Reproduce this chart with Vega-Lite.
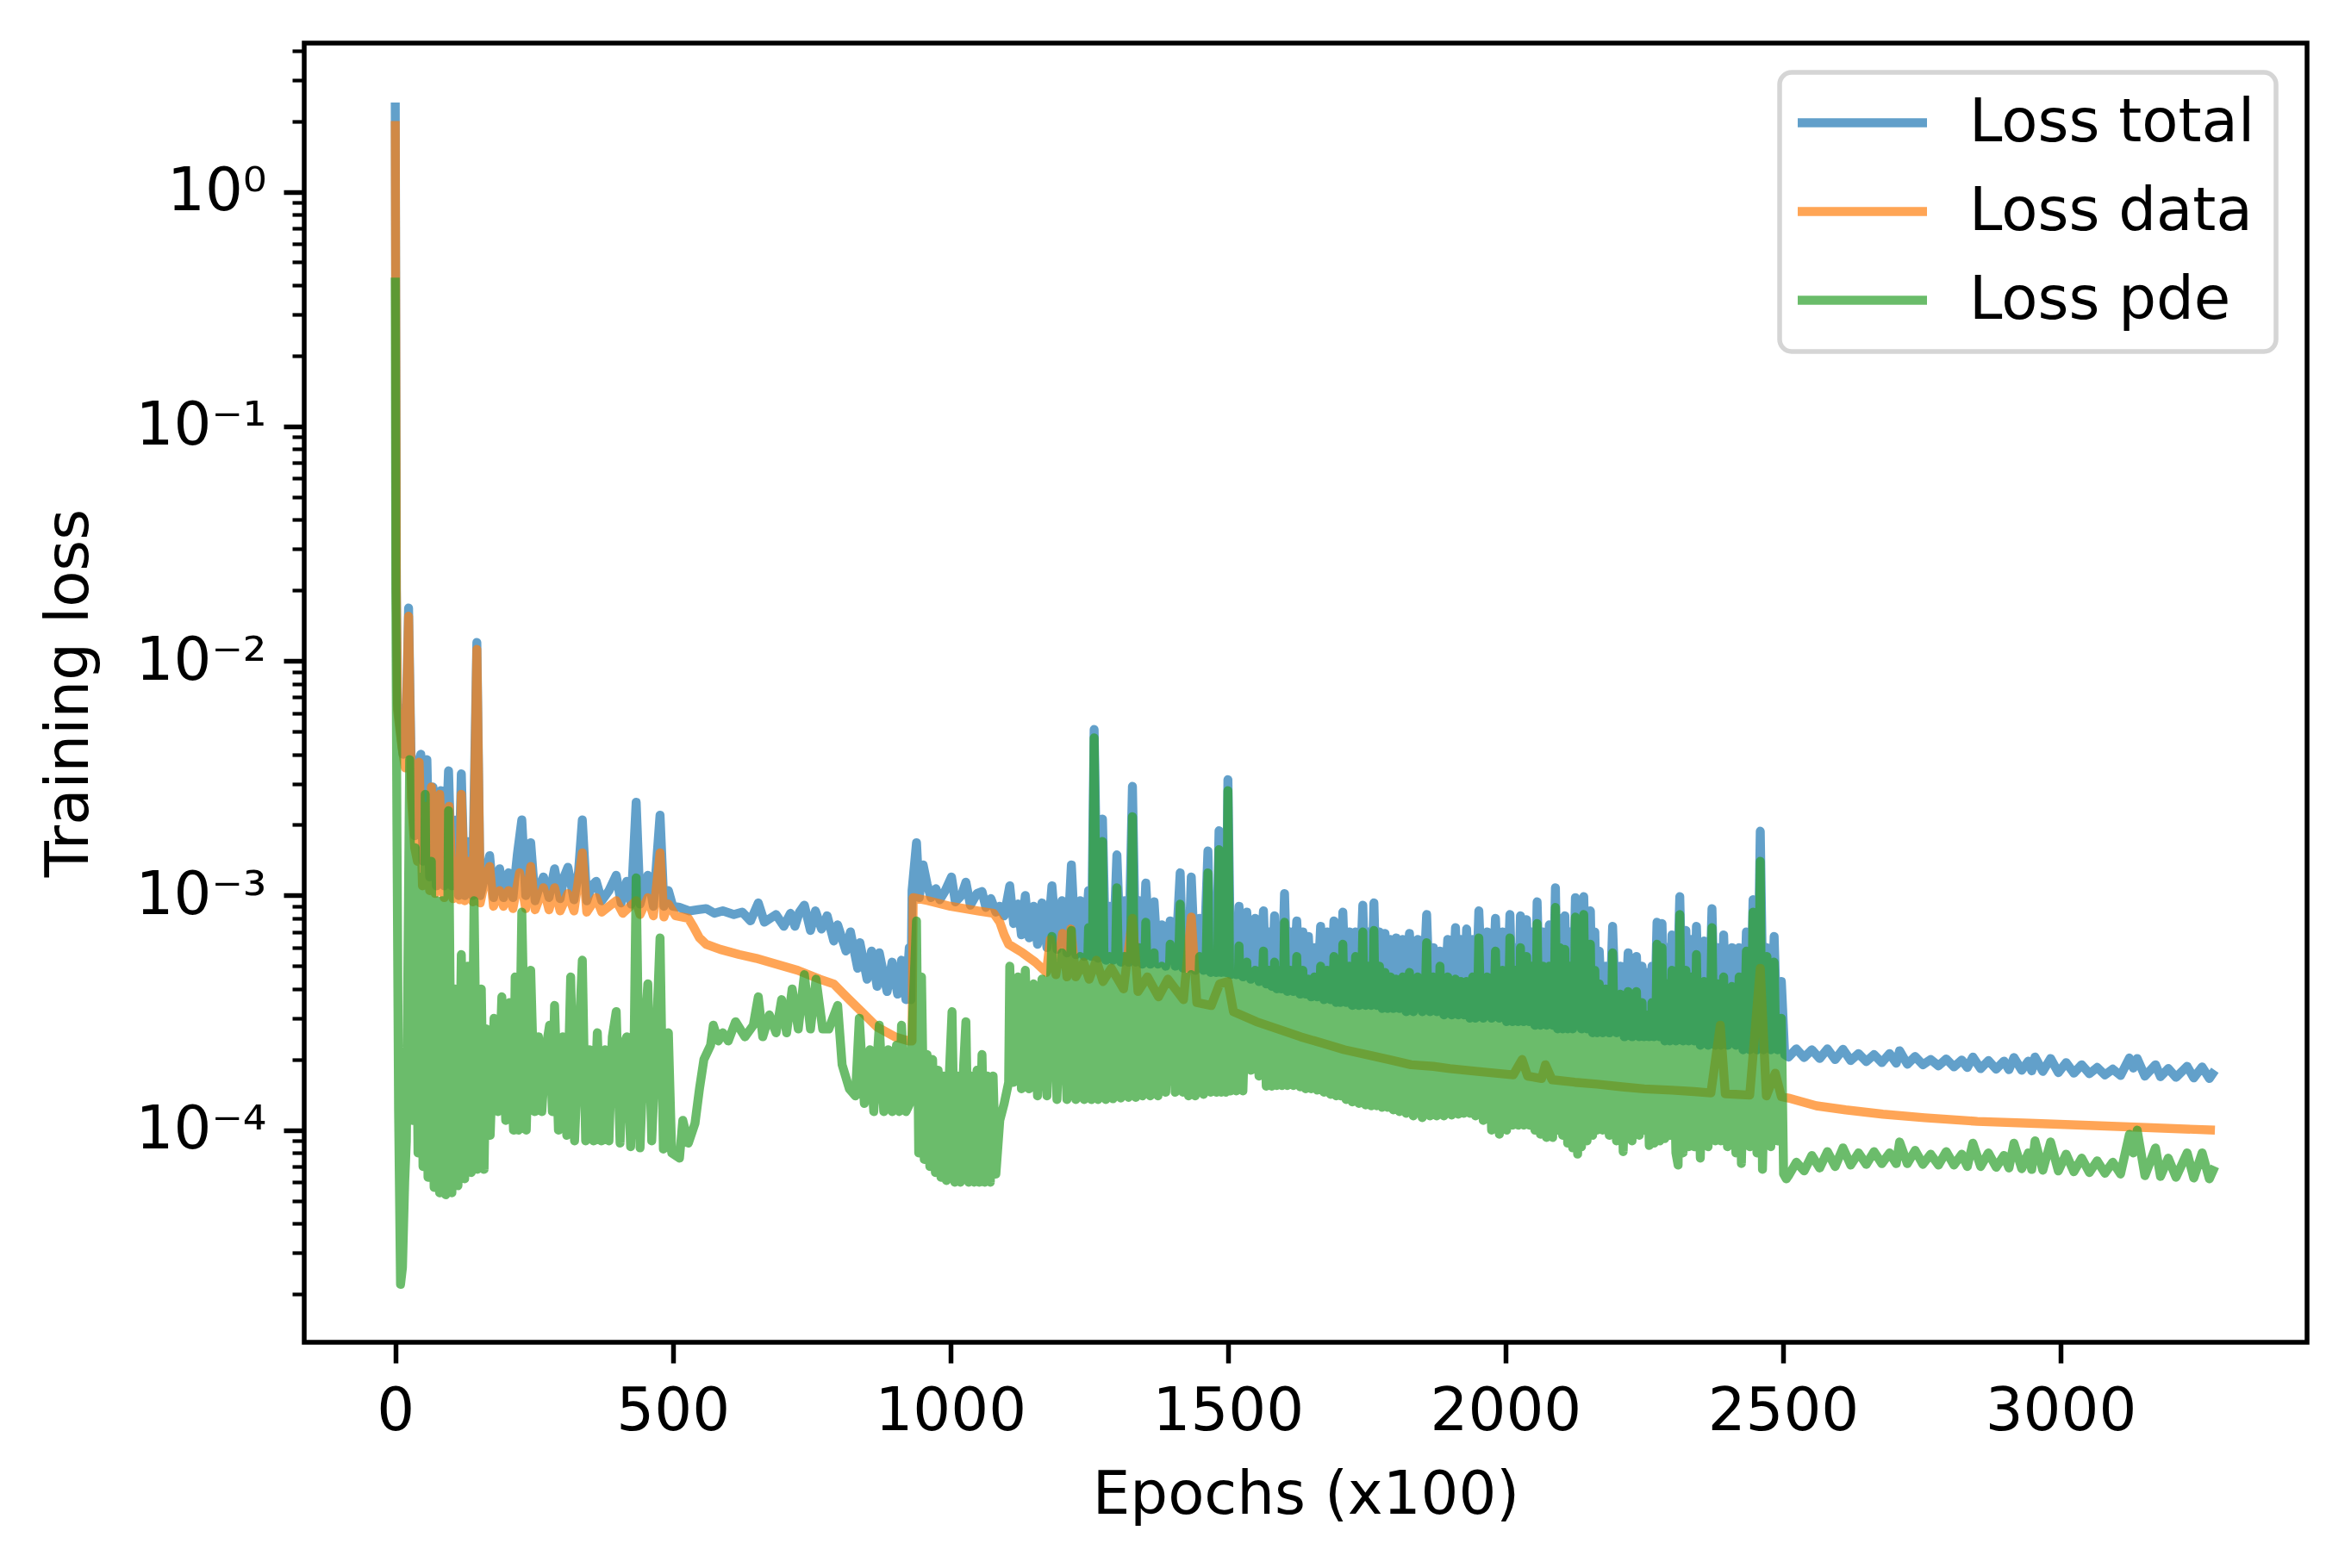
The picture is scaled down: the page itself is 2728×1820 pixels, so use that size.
{"$schema":"https://vega.github.io/schema/vega-lite/v6.json","width":2324,"height":1508,"autosize":"none","padding":{"left":353,"top":50,"right":51,"bottom":262},"background":"white",
"config":{"font":"DejaVu Sans","view":{"stroke":"black","strokeWidth":5.5},"axis":{"grid":false,"domain":false,"tickColor":"black","labelColor":"black","titleColor":"black","labelFontSize":69,"titleFontSize":69,"titleFontWeight":"normal","labelFont":"DejaVu Sans","titleFont":"DejaVu Sans","labelLimit":1000}},
"datasets":{
"total":[{"x":0,"y":2.4},{"x":2,"y":0.02},{"x":4,"y":0.0066},{"x":14,"y":0.004},{"x":19,"y":0.0045},{"x":24,"y":0.0168},{"x":29,"y":0.0032},{"x":35,"y":0.0018},{"x":40,"y":0.0036},{"x":46,"y":0.004},{"x":50,"y":0.0014},{"x":57,"y":0.0038},{"x":62,"y":0.0012},{"x":68,"y":0.0029},{"x":74,"y":0.0011},{"x":82,"y":0.0028},{"x":88,"y":0.0011},{"x":96,"y":0.0034},{"x":102,"y":0.0011},{"x":110,"y":0.0021},{"x":114,"y":0.001},{"x":119,"y":0.0033},{"x":125,"y":0.001},{"x":133,"y":0.0017},{"x":139,"y":0.001},{"x":147,"y":0.012},{"x":153,"y":0.001},{"x":163,"y":0.00125},{"x":170,"y":0.00148},{"x":177,"y":0.00098},{"x":188,"y":0.0013},{"x":195,"y":0.00098},{"x":204,"y":0.00125},{"x":212,"y":0.00098},{"x":220,"y":0.0015},{"x":228,"y":0.0021},{"x":235,"y":0.001},{"x":244,"y":0.00168},{"x":252,"y":0.00095},{"x":260,"y":0.0011},{"x":267,"y":0.0012},{"x":277,"y":0.00098},{"x":287,"y":0.0013},{"x":297,"y":0.00097},{"x":304,"y":0.0012},{"x":311,"y":0.00132},{"x":322,"y":0.00096},{"x":330,"y":0.00125},{"x":337,"y":0.0021},{"x":345,"y":0.00095},{"x":354,"y":0.0011},{"x":362,"y":0.00115},{"x":372,"y":0.00095},{"x":385,"y":0.00105},{"x":398,"y":0.00122},{"x":407,"y":0.00093},{"x":417,"y":0.00115},{"x":425,"y":0.00092},{"x":434,"y":0.0025},{"x":441,"y":0.00092},{"x":455,"y":0.00122},{"x":465,"y":0.0009},{"x":477,"y":0.0022},{"x":484,"y":0.0009},{"x":492,"y":0.00105},{"x":500,"y":0.0009},{"x":512,"y":0.00089},{"x":530,"y":0.00086},{"x":545,"y":0.00087},{"x":560,"y":0.00088},{"x":575,"y":0.00084},{"x":590,"y":0.00086},{"x":610,"y":0.00083},{"x":625,"y":0.00085},{"x":640,"y":0.00078},{"x":654,"y":0.00093},{"x":665,"y":0.00077},{"x":686,"y":0.00083},{"x":700,"y":0.00074},{"x":712,"y":0.00084},{"x":720,"y":0.00074},{"x":728,"y":0.00085},{"x":737,"y":0.00091},{"x":748,"y":0.00071},{"x":757,"y":0.00086},{"x":768,"y":0.00072},{"x":778,"y":0.00082},{"x":790,"y":0.00064},{"x":797,"y":0.00075},{"x":812,"y":0.00058},{"x":820,"y":0.0007},{"x":833,"y":0.00049},{"x":837,"y":0.00063},{"x":850,"y":0.00044},{"x":858,"y":0.00058},{"x":868,"y":0.00041},{"x":872,"y":0.00057},{"x":886,"y":0.00039},{"x":895,"y":0.00052},{"x":905,"y":0.00038},{"x":912,"y":0.00053},{"x":920,"y":0.00036},{"x":926,"y":0.0006},{"x":929,"y":0.00036},{"x":931,"y":0.00105},{"x":939,"y":0.00168},{"x":944,"y":0.00098},{"x":951,"y":0.00135},{"x":958,"y":0.00112},{"x":965,"y":0.00098},{"x":974,"y":0.00107},{"x":981,"y":0.00096},{"x":990,"y":0.00104},{"x":1002,"y":0.0012},{"x":1009,"y":0.00094},{"x":1020,"y":0.001},{"x":1028,"y":0.00114},{"x":1036,"y":0.00091},{"x":1048,"y":0.00102},{"x":1057,"y":0.00104},{"x":1064,"y":0.00089},{"x":1073,"y":0.00097},{"x":1082,"y":0.00085},{"x":1089,"y":0.0009},{"x":1097,"y":0.00082},{"x":1107,"y":0.0011},{"x":1114,"y":0.00076},{"x":1122,"y":0.00092},{"x":1128,"y":0.00068},{"x":1135,"y":0.001},{"x":1142,"y":0.00066},{"x":1150,"y":0.0009},{"x":1157,"y":0.00062},{"x":1165,"y":0.00093},{"x":1174,"y":0.0006},{"x":1183,"y":0.0011},{"x":1192,"y":0.00059},{"x":1201,"y":0.00095},{"x":1210,"y":0.00057},{"x":1218,"y":0.00135},{"x":1226,"y":0.00056},{"x":1234,"y":0.00095},{"x":1241,"y":0.00055},{"x":1249,"y":0.00105},{"x":1254,"y":0.00055},{"x":1259,"y":0.0051},{"x":1266,"y":0.00054},{"x":1274,"y":0.00212},{"x":1280,"y":0.00053},{"x":1287,"y":0.0009},{"x":1293,"y":0.00053},{"x":1300,"y":0.00149},{"x":1307,"y":0.00052},{"x":1314,"y":0.00095},{"x":1321,"y":0.00052},{"x":1328,"y":0.00292},{"x":1334,"y":0.00052},{"x":1340,"y":0.00095},{"x":1346,"y":0.00051},{"x":1352,"y":0.00113},{"x":1360,"y":0.00051},{"x":1367,"y":0.00094},{"x":1374,"y":0.00051},{"x":1381,"y":0.00075},{"x":1388,"y":0.0005},{"x":1396,"y":0.00078},{"x":1405,"y":0.0005},{"x":1414,"y":0.00125},{"x":1419,"y":0.00049},{"x":1424,"y":0.0007},{"x":1429,"y":0.00049},{"x":1434,"y":0.0012},{"x":1441,"y":0.00048},{"x":1449,"y":0.0008},{"x":1456,"y":0.00048},{"x":1464,"y":0.00155},{"x":1469,"y":0.00047},{"x":1474,"y":0.0007},{"x":1479,"y":0.00047},{"x":1484,"y":0.00189},{"x":1488,"y":0.00047},{"x":1492,"y":0.0008},{"x":1496,"y":0.00047},{"x":1500,"y":0.00312},{"x":1505,"y":0.00046},{"x":1510,"y":0.0006},{"x":1515,"y":0.00046},{"x":1520,"y":0.0009},{"x":1527,"y":0.00045},{"x":1534,"y":0.00085},{"x":1541,"y":0.00044},{"x":1549,"y":0.0008},{"x":1556,"y":0.00043},{"x":1564,"y":0.00086},{"x":1569,"y":0.00042},{"x":1574,"y":0.0007},{"x":1579,"y":0.00041},{"x":1584,"y":0.00082},{"x":1588,"y":0.0004},{"x":1593,"y":0.0007},{"x":1597,"y":0.0004},{"x":1602,"y":0.00102},{"x":1607,"y":0.00039},{"x":1613,"y":0.0007},{"x":1618,"y":0.00039},{"x":1624,"y":0.00078},{"x":1630,"y":0.00038},{"x":1635,"y":0.0007},{"x":1640,"y":0.00038},{"x":1645,"y":0.00067},{"x":1650,"y":0.00037},{"x":1656,"y":0.0006},{"x":1661,"y":0.00037},{"x":1667,"y":0.00074},{"x":1673,"y":0.00036},{"x":1679,"y":0.0007},{"x":1685,"y":0.00036},{"x":1691,"y":0.00078},{"x":1695,"y":0.00035},{"x":1699,"y":0.0007},{"x":1703,"y":0.00035},{"x":1707,"y":0.00085},{"x":1713,"y":0.00035},{"x":1719,"y":0.0007},{"x":1724,"y":0.00034},{"x":1730,"y":0.0007},{"x":1736,"y":0.00034},{"x":1743,"y":0.00091},{"x":1748,"y":0.00034},{"x":1753,"y":0.0007},{"x":1758,"y":0.00034},{"x":1763,"y":0.00093},{"x":1768,"y":0.00034},{"x":1773,"y":0.0007},{"x":1778,"y":0.00033},{"x":1783,"y":0.00069},{"x":1788,"y":0.00033},{"x":1793,"y":0.00065},{"x":1798,"y":0.00033},{"x":1803,"y":0.00066},{"x":1809,"y":0.00033},{"x":1815,"y":0.00065},{"x":1821,"y":0.00032},{"x":1827,"y":0.00069},{"x":1834,"y":0.00032},{"x":1842,"y":0.00065},{"x":1850,"y":0.00032},{"x":1858,"y":0.00083},{"x":1864,"y":0.00032},{"x":1870,"y":0.0006},{"x":1876,"y":0.00032},{"x":1882,"y":0.00058},{"x":1889,"y":0.00031},{"x":1896,"y":0.00065},{"x":1903,"y":0.00031},{"x":1910,"y":0.00073},{"x":1915,"y":0.00031},{"x":1920,"y":0.00065},{"x":1925,"y":0.00031},{"x":1930,"y":0.00072},{"x":1936,"y":0.0003},{"x":1941,"y":0.00065},{"x":1946,"y":0.0003},{"x":1952,"y":0.00086},{"x":1960,"y":0.0003},{"x":1967,"y":0.0007},{"x":1975,"y":0.0003},{"x":1982,"y":0.0008},{"x":1989,"y":0.0003},{"x":1995,"y":0.0007},{"x":2002,"y":0.00029},{"x":2008,"y":0.00083},{"x":2013,"y":0.00029},{"x":2018,"y":0.0006},{"x":2023,"y":0.00029},{"x":2027,"y":0.00082},{"x":2033,"y":0.00029},{"x":2038,"y":0.00079},{"x":2043,"y":0.00029},{"x":2048,"y":0.0007},{"x":2053,"y":0.00028},{"x":2057,"y":0.00094},{"x":2063,"y":0.00028},{"x":2068,"y":0.0007},{"x":2074,"y":0.00028},{"x":2079,"y":0.00075},{"x":2085,"y":0.00028},{"x":2090,"y":0.00108},{"x":2094,"y":0.00027},{"x":2098,"y":0.0008},{"x":2103,"y":0.00027},{"x":2107,"y":0.00082},{"x":2112,"y":0.00027},{"x":2116,"y":0.0007},{"x":2121,"y":0.00027},{"x":2126,"y":0.00098},{"x":2133,"y":0.0009},{"x":2137,"y":0.00027},{"x":2141,"y":0.00099},{"x":2147,"y":0.00027},{"x":2153,"y":0.00086},{"x":2157,"y":0.00026},{"x":2161,"y":0.0007},{"x":2165,"y":0.00026},{"x":2169,"y":0.00058},{"x":2175,"y":0.00026},{"x":2181,"y":0.0005},{"x":2187,"y":0.00026},{"x":2193,"y":0.00074},{"x":2200,"y":0.00026},{"x":2207,"y":0.0005},{"x":2214,"y":0.00025},{"x":2221,"y":0.00057},{"x":2228,"y":0.00025},{"x":2236,"y":0.00055},{"x":2241,"y":0.00025},{"x":2246,"y":0.0005},{"x":2250,"y":0.00025},{"x":2254,"y":0.00047},{"x":2259,"y":0.00025},{"x":2264,"y":0.0005},{"x":2268,"y":0.00025},{"x":2273,"y":0.00077},{"x":2278,"y":0.00025},{"x":2282,"y":0.00076},{"x":2287,"y":0.00024},{"x":2291,"y":0.0006},{"x":2296,"y":0.00024},{"x":2300,"y":0.00068},{"x":2307,"y":0.00024},{"x":2314,"y":0.00099},{"x":2320,"y":0.00024},{"x":2325,"y":0.00071},{"x":2330,"y":0.00024},{"x":2335,"y":0.00065},{"x":2340,"y":0.00024},{"x":2344,"y":0.00074},{"x":2351,"y":0.00023},{"x":2358,"y":0.00064},{"x":2365,"y":0.00023},{"x":2372,"y":0.00088},{"x":2378,"y":0.00023},{"x":2383,"y":0.0006},{"x":2388,"y":0.00023},{"x":2393,"y":0.00068},{"x":2400,"y":0.00023},{"x":2408,"y":0.0006},{"x":2415,"y":0.00023},{"x":2421,"y":0.0006},{"x":2428,"y":0.00022},{"x":2434,"y":0.0007},{"x":2440,"y":0.00022},{"x":2446,"y":0.00096},{"x":2453,"y":0.00022},{"x":2459,"y":0.00188},{"x":2465,"y":0.00022},{"x":2471,"y":0.0006},{"x":2478,"y":0.00022},{"x":2484,"y":0.00067},{"x":2490,"y":0.00022},{"x":2497,"y":0.00043},{"x":2503,"y":0.00021},{"x":2510,"y":0.000205},{"x":2524,"y":0.000222},{"x":2538,"y":0.000204},{"x":2552,"y":0.00022},{"x":2566,"y":0.000202},{"x":2580,"y":0.000222},{"x":2594,"y":0.0002},{"x":2608,"y":0.000221},{"x":2622,"y":0.000198},{"x":2636,"y":0.000212},{"x":2650,"y":0.000196},{"x":2664,"y":0.00021},{"x":2678,"y":0.000194},{"x":2692,"y":0.000212},{"x":2704,"y":0.000193},{"x":2710,"y":0.000218},{"x":2724,"y":0.000191},{"x":2738,"y":0.000206},{"x":2752,"y":0.00019},{"x":2766,"y":0.0002},{"x":2780,"y":0.000188},{"x":2794,"y":0.000201},{"x":2808,"y":0.000186},{"x":2822,"y":0.000199},{"x":2832,"y":0.000185},{"x":2842,"y":0.000205},{"x":2856,"y":0.000183},{"x":2870,"y":0.000198},{"x":2884,"y":0.000182},{"x":2898,"y":0.000197},{"x":2907,"y":0.000181},{"x":2916,"y":0.000204},{"x":2930,"y":0.00018},{"x":2942,"y":0.000197},{"x":2948,"y":0.000179},{"x":2954,"y":0.000205},{"x":2968,"y":0.000178},{"x":2982,"y":0.000202},{"x":2996,"y":0.000176},{"x":3010,"y":0.000194},{"x":3024,"y":0.000175},{"x":3038,"y":0.00019},{"x":3052,"y":0.000174},{"x":3066,"y":0.000185},{"x":3080,"y":0.000172},{"x":3094,"y":0.000182},{"x":3108,"y":0.000171},{"x":3124,"y":0.000203},{"x":3131,"y":0.000184},{"x":3138,"y":0.000202},{"x":3152,"y":0.00017},{"x":3171,"y":0.00019},{"x":3180,"y":0.000169},{"x":3194,"y":0.000183},{"x":3208,"y":0.000168},{"x":3228,"y":0.000187},{"x":3240,"y":0.000167},{"x":3255,"y":0.000186},{"x":3268,"y":0.000166},{"x":3278,"y":0.00018}],
"data":[{"x":0,"y":2},{"x":2,"y":0.02},{"x":4,"y":0.0062},{"x":12,"y":0.0043},{"x":18,"y":0.0035},{"x":24,"y":0.0155},{"x":29,"y":0.0026},{"x":35,"y":0.0016},{"x":40,"y":0.0014},{"x":43,"y":0.0037},{"x":49,"y":0.0011},{"x":56,"y":0.0024},{"x":62,"y":0.00105},{"x":65,"y":0.0029},{"x":72,"y":0.00102},{"x":80,"y":0.0027},{"x":88,"y":0.00098},{"x":97,"y":0.0024},{"x":104,"y":0.00097},{"x":112,"y":0.0014},{"x":116,"y":0.00096},{"x":119,"y":0.0027},{"x":125,"y":0.00095},{"x":133,"y":0.0014},{"x":140,"y":0.00094},{"x":147,"y":0.0112},{"x":153,"y":0.00093},{"x":163,"y":0.0012},{"x":170,"y":0.00133},{"x":177,"y":0.0009},{"x":188,"y":0.00105},{"x":195,"y":0.0009},{"x":204,"y":0.00105},{"x":212,"y":0.00088},{"x":224,"y":0.00125},{"x":235,"y":0.00088},{"x":244,"y":0.00133},{"x":252,"y":0.00087},{"x":267,"y":0.00108},{"x":277,"y":0.00087},{"x":287,"y":0.00108},{"x":297,"y":0.00086},{"x":311,"y":0.00102},{"x":322,"y":0.00086},{"x":337,"y":0.00152},{"x":345,"y":0.00085},{"x":362,"y":0.00098},{"x":372,"y":0.00085},{"x":398,"y":0.00095},{"x":410,"y":0.00084},{"x":434,"y":0.00095},{"x":441,"y":0.00083},{"x":455,"y":0.00098},{"x":465,"y":0.00082},{"x":477,"y":0.00152},{"x":484,"y":0.00081},{"x":492,"y":0.00092},{"x":505,"y":0.00082},{"x":528,"y":0.0008},{"x":538,"y":0.00073},{"x":548,"y":0.00066},{"x":560,"y":0.00062},{"x":585,"y":0.00059},{"x":620,"y":0.00056},{"x":650,"y":0.00054},{"x":686,"y":0.00051},{"x":725,"y":0.00048},{"x":765,"y":0.00044},{"x":790,"y":0.00042},{"x":813,"y":0.00037},{"x":840,"y":0.00032},{"x":868,"y":0.000275},{"x":900,"y":0.00025},{"x":925,"y":0.00024},{"x":931,"y":0.00024},{"x":933,"y":0.00098},{"x":960,"y":0.00095},{"x":1000,"y":0.0009},{"x":1050,"y":0.00086},{"x":1078,"y":0.00084},{"x":1089,"y":0.00077},{"x":1097,"y":0.00068},{"x":1105,"y":0.00062},{"x":1130,"y":0.00057},{"x":1153,"y":0.00052},{"x":1173,"y":0.00047},{"x":1180,"y":0.00065},{"x":1190,"y":0.00046},{"x":1202,"y":0.00069},{"x":1210,"y":0.00045},{"x":1217,"y":0.00072},{"x":1226,"y":0.00045},{"x":1240,"y":0.00052},{"x":1250,"y":0.00044},{"x":1263,"y":0.00053},{"x":1275,"y":0.00043},{"x":1290,"y":0.00049},{"x":1312,"y":0.0004},{"x":1328,"y":0.0008},{"x":1338,"y":0.00039},{"x":1355,"y":0.00045},{"x":1375,"y":0.00037},{"x":1392,"y":0.00044},{"x":1420,"y":0.00036},{"x":1434,"y":0.00081},{"x":1444,"y":0.00035},{"x":1470,"y":0.00034},{"x":1485,"y":0.00042},{"x":1500,"y":0.00043},{"x":1510,"y":0.00032},{"x":1551,"y":0.00029},{"x":1590,"y":0.00027},{"x":1631,"y":0.00025},{"x":1670,"y":0.000235},{"x":1710,"y":0.00022},{"x":1750,"y":0.00021},{"x":1790,"y":0.0002},{"x":1830,"y":0.00019},{"x":1870,"y":0.000187},{"x":1900,"y":0.000183},{"x":1950,"y":0.000178},{"x":1982,"y":0.000175},{"x":2014,"y":0.000172},{"x":2030,"y":0.0002},{"x":2040,"y":0.00017},{"x":2065,"y":0.000166},{"x":2072,"y":0.00019},{"x":2084,"y":0.000164},{"x":2125,"y":0.00016},{"x":2165,"y":0.000157},{"x":2210,"y":0.000153},{"x":2250,"y":0.00015},{"x":2300,"y":0.000148},{"x":2340,"y":0.000146},{"x":2370,"y":0.000144},{"x":2387,"y":0.00028},{"x":2396,"y":0.000143},{"x":2440,"y":0.000141},{"x":2459,"y":0.00049},{"x":2470,"y":0.00014},{"x":2486,"y":0.000175},{"x":2497,"y":0.000139},{"x":2510,"y":0.000137},{"x":2560,"y":0.000127},{"x":2613,"y":0.000122},{"x":2680,"y":0.000117},{"x":2755,"y":0.000113},{"x":2850,"y":0.000109},{"x":2944,"y":0.000107},{"x":3040,"y":0.000105},{"x":3134,"y":0.000103},{"x":3278,"y":0.0001}],
"pde":[{"x":0,"y":0.43},{"x":1,"y":0.02},{"x":3,"y":0.002},{"x":6,"y":0.00012},{"x":9.5,"y":2.2e-5},{"x":13,"y":2.6e-5},{"x":17,"y":6e-5},{"x":20,"y":9e-5},{"x":26,"y":0.0038},{"x":31,"y":0.00011},{"x":36,"y":0.0016},{"x":41,"y":8e-5},{"x":46,"y":0.0012},{"x":50,"y":7e-5},{"x":54,"y":0.0027},{"x":59,"y":6.3e-5},{"x":65,"y":0.0014},{"x":70,"y":5.7e-5},{"x":75,"y":0.00095},{"x":80,"y":5.4e-5},{"x":85,"y":0.00095},{"x":91,"y":5.3e-5},{"x":96,"y":0.0023},{"x":102,"y":5.4e-5},{"x":108,"y":0.0004},{"x":113,"y":5.8e-5},{"x":119,"y":0.00056},{"x":125,"y":6.2e-5},{"x":131,"y":0.0005},{"x":137,"y":6.6e-5},{"x":142,"y":0.00095},{"x":148,"y":6.8e-5},{"x":155,"y":0.0004},{"x":160,"y":6.8e-5},{"x":164,"y":0.00027},{"x":171,"y":9.5e-5},{"x":178,"y":0.0003},{"x":185,"y":0.00012},{"x":192,"y":0.00037},{"x":199,"y":0.00011},{"x":206,"y":0.00035},{"x":213,"y":0.0001},{"x":216,"y":0.00045},{"x":222,"y":0.0001},{"x":228,"y":0.00085},{"x":236,"y":0.0001},{"x":244,"y":0.00048},{"x":251,"y":0.00012},{"x":258,"y":0.00025},{"x":264,"y":0.00012},{"x":271,"y":0.00022},{"x":278,"y":0.00028},{"x":283,"y":0.00012},{"x":287,"y":0.00034},{"x":294,"y":0.0001},{"x":302,"y":0.00025},{"x":309,"y":9.5e-5},{"x":316,"y":0.00045},{"x":323,"y":9e-5},{"x":330,"y":0.00022},{"x":337,"y":0.00053},{"x":343,"y":9e-5},{"x":350,"y":0.00022},{"x":357,"y":9e-5},{"x":364,"y":0.00026},{"x":371,"y":9e-5},{"x":378,"y":0.00022},{"x":385,"y":9e-5},{"x":391,"y":0.00025},{"x":398,"y":0.00032},{"x":405,"y":8.8e-5},{"x":411,"y":0.00023},{"x":417,"y":0.00025},{"x":424,"y":8.5e-5},{"x":430,"y":0.0002},{"x":434,"y":0.00119},{"x":441,"y":8.4e-5},{"x":448,"y":0.00023},{"x":455,"y":0.00042},{"x":462,"y":9e-5},{"x":470,"y":0.00024},{"x":477,"y":0.00066},{"x":483,"y":8.3e-5},{"x":492,"y":0.00026},{"x":498,"y":8e-5},{"x":512,"y":7.6e-5},{"x":518,"y":0.00011},{"x":528,"y":8.8e-5},{"x":540,"y":0.000107},{"x":548,"y":0.00015},{"x":556,"y":0.0002},{"x":568,"y":0.00023},{"x":573,"y":0.00028},{"x":582,"y":0.00024},{"x":590,"y":0.00026},{"x":600,"y":0.00024},{"x":613,"y":0.00029},{"x":630,"y":0.00025},{"x":645,"y":0.00028},{"x":654,"y":0.00037},{"x":662,"y":0.00025},{"x":674,"y":0.00031},{"x":686,"y":0.00026},{"x":696,"y":0.00036},{"x":705,"y":0.00026},{"x":715,"y":0.0004},{"x":726,"y":0.00027},{"x":737,"y":0.00046},{"x":748,"y":0.00027},{"x":758,"y":0.00044},{"x":770,"y":0.00027},{"x":781,"y":0.00027},{"x":797,"y":0.00034},{"x":805,"y":0.00019},{"x":818,"y":0.00015},{"x":829,"y":0.00014},{"x":836,"y":0.0003},{"x":845,"y":0.00013},{"x":855,"y":0.00022},{"x":862,"y":0.00012},{"x":872,"y":0.00028},{"x":880,"y":0.00012},{"x":888,"y":0.00022},{"x":895,"y":0.00012},{"x":903,"y":0.00023},{"x":908,"y":0.00012},{"x":912,"y":0.00028},{"x":920,"y":0.00012},{"x":927,"y":0.00013},{"x":932,"y":0.0003},{"x":939,"y":0.00078},{"x":943,"y":8e-5},{"x":948,"y":0.00045},{"x":953,"y":7.5e-5},{"x":958,"y":0.00021},{"x":963,"y":7e-5},{"x":968,"y":0.0002},{"x":973,"y":6.6e-5},{"x":978,"y":0.00018},{"x":983,"y":6.3e-5},{"x":988,"y":0.00017},{"x":993,"y":6.1e-5},{"x":998,"y":0.00017},{"x":1003,"y":0.00032},{"x":1008,"y":6e-5},{"x":1013,"y":0.00017},{"x":1018,"y":6e-5},{"x":1023,"y":0.00017},{"x":1028,"y":0.00029},{"x":1033,"y":6e-5},{"x":1038,"y":0.00017},{"x":1043,"y":6e-5},{"x":1048,"y":0.00018},{"x":1052,"y":6e-5},{"x":1057,"y":0.00021},{"x":1062,"y":6e-5},{"x":1067,"y":0.00017},{"x":1072,"y":6e-5},{"x":1077,"y":0.00017},{"x":1082,"y":6.5e-5},{"x":1089,"y":0.00011},{"x":1097,"y":0.00013},{"x":1105,"y":0.00016},{"x":1107,"y":0.0005},{"x":1114,"y":0.00016},{"x":1122,"y":0.00045},{"x":1128,"y":0.00015},{"x":1135,"y":0.00048},{"x":1142,"y":0.00015},{"x":1150,"y":0.00042},{"x":1157,"y":0.00014},{"x":1165,"y":0.00044},{"x":1174,"y":0.00014},{"x":1183,"y":0.00067},{"x":1192,"y":0.000135},{"x":1201,"y":0.00057},{"x":1210,"y":0.000135},{"x":1218,"y":0.00071},{"x":1226,"y":0.000135},{"x":1234,"y":0.00055},{"x":1241,"y":0.000135},{"x":1249,"y":0.00073},{"x":1254,"y":0.000135},{"x":1259,"y":0.0047},{"x":1266,"y":0.000135},{"x":1274,"y":0.0017},{"x":1280,"y":0.000135},{"x":1287,"y":0.00055},{"x":1293,"y":0.000136},{"x":1300,"y":0.00108},{"x":1307,"y":0.000137},{"x":1314,"y":0.00055},{"x":1321,"y":0.000138},{"x":1328,"y":0.00217},{"x":1334,"y":0.000138},{"x":1340,"y":0.0006},{"x":1346,"y":0.00014},{"x":1352,"y":0.00077},{"x":1360,"y":0.00014},{"x":1367,"y":0.00057},{"x":1374,"y":0.00014},{"x":1381,"y":0.0005},{"x":1388,"y":0.000145},{"x":1396,"y":0.00062},{"x":1405,"y":0.000145},{"x":1414,"y":0.00092},{"x":1419,"y":0.000145},{"x":1424,"y":0.00045},{"x":1429,"y":0.00014},{"x":1434,"y":0.00046},{"x":1441,"y":0.00014},{"x":1449,"y":0.00055},{"x":1456,"y":0.000142},{"x":1464,"y":0.00125},{"x":1469,"y":0.000145},{"x":1474,"y":0.0005},{"x":1479,"y":0.000145},{"x":1484,"y":0.00157},{"x":1488,"y":0.000145},{"x":1492,"y":0.0006},{"x":1496,"y":0.000145},{"x":1500,"y":0.0028},{"x":1505,"y":0.000147},{"x":1510,"y":0.00045},{"x":1515,"y":0.000147},{"x":1520,"y":0.00061},{"x":1527,"y":0.000147},{"x":1534,"y":0.00052},{"x":1541,"y":0.00018},{"x":1549,"y":0.00048},{"x":1556,"y":0.00017},{"x":1564,"y":0.00058},{"x":1569,"y":0.000154},{"x":1574,"y":0.00048},{"x":1579,"y":0.000154},{"x":1584,"y":0.00052},{"x":1588,"y":0.000155},{"x":1593,"y":0.00048},{"x":1597,"y":0.000155},{"x":1602,"y":0.00077},{"x":1607,"y":0.000155},{"x":1613,"y":0.00048},{"x":1618,"y":0.000155},{"x":1624,"y":0.00055},{"x":1630,"y":0.000153},{"x":1635,"y":0.00048},{"x":1640,"y":0.00015},{"x":1645,"y":0.00044},{"x":1650,"y":0.00015},{"x":1656,"y":0.00045},{"x":1661,"y":0.000148},{"x":1667,"y":0.0005},{"x":1673,"y":0.000145},{"x":1679,"y":0.00048},{"x":1685,"y":0.000142},{"x":1691,"y":0.00055},{"x":1695,"y":0.00014},{"x":1699,"y":0.0005},{"x":1703,"y":0.00014},{"x":1707,"y":0.00062},{"x":1713,"y":0.000135},{"x":1719,"y":0.0005},{"x":1724,"y":0.000132},{"x":1730,"y":0.00055},{"x":1736,"y":0.00013},{"x":1743,"y":0.0007},{"x":1748,"y":0.000128},{"x":1753,"y":0.0005},{"x":1758,"y":0.000127},{"x":1763,"y":0.00071},{"x":1768,"y":0.000127},{"x":1773,"y":0.0005},{"x":1778,"y":0.000125},{"x":1783,"y":0.00047},{"x":1788,"y":0.000125},{"x":1793,"y":0.00045},{"x":1798,"y":0.000122},{"x":1803,"y":0.00044},{"x":1809,"y":0.00012},{"x":1815,"y":0.00045},{"x":1821,"y":0.000118},{"x":1827,"y":0.00047},{"x":1834,"y":0.000115},{"x":1842,"y":0.00045},{"x":1850,"y":0.000113},{"x":1858,"y":0.00063},{"x":1864,"y":0.000115},{"x":1870,"y":0.00045},{"x":1876,"y":0.000115},{"x":1882,"y":0.0005},{"x":1889,"y":0.000115},{"x":1896,"y":0.00045},{"x":1903,"y":0.000116},{"x":1910,"y":0.00044},{"x":1915,"y":0.000117},{"x":1920,"y":0.00043},{"x":1925,"y":0.000118},{"x":1930,"y":0.00043},{"x":1936,"y":0.000118},{"x":1941,"y":0.00045},{"x":1946,"y":0.000115},{"x":1952,"y":0.00066},{"x":1960,"y":0.00011},{"x":1967,"y":0.00045},{"x":1975,"y":0.0001},{"x":1982,"y":0.00058},{"x":1989,"y":9.6e-5},{"x":1995,"y":0.00048},{"x":2002,"y":0.0001},{"x":2008,"y":0.00066},{"x":2013,"y":0.000105},{"x":2018,"y":0.00048},{"x":2023,"y":0.000105},{"x":2027,"y":0.0006},{"x":2033,"y":0.000105},{"x":2038,"y":0.00055},{"x":2043,"y":0.000105},{"x":2048,"y":0.0005},{"x":2053,"y":0.0001},{"x":2057,"y":0.00076},{"x":2063,"y":9.6e-5},{"x":2068,"y":0.0005},{"x":2074,"y":9.3e-5},{"x":2079,"y":0.0005},{"x":2085,"y":9.3e-5},{"x":2090,"y":0.00089},{"x":2094,"y":0.0001},{"x":2098,"y":0.0006},{"x":2103,"y":9.5e-5},{"x":2107,"y":0.00059},{"x":2112,"y":8.8e-5},{"x":2116,"y":0.0005},{"x":2121,"y":8.4e-5},{"x":2126,"y":0.00081},{"x":2130,"y":7.9e-5},{"x":2133,"y":0.00072},{"x":2137,"y":8.5e-5},{"x":2141,"y":0.00083},{"x":2147,"y":9e-5},{"x":2153,"y":0.00062},{"x":2157,"y":9.5e-5},{"x":2161,"y":0.00048},{"x":2165,"y":0.0001},{"x":2169,"y":0.00042},{"x":2175,"y":0.0001},{"x":2181,"y":0.0004},{"x":2187,"y":9.5e-5},{"x":2193,"y":0.00057},{"x":2200,"y":9e-5},{"x":2207,"y":0.00038},{"x":2212,"y":8.1e-5},{"x":2221,"y":0.00039},{"x":2228,"y":9e-5},{"x":2236,"y":0.00039},{"x":2241,"y":9.5e-5},{"x":2246,"y":0.00035},{"x":2250,"y":0.0001},{"x":2254,"y":0.00031},{"x":2259,"y":8.6e-5},{"x":2264,"y":0.00035},{"x":2268,"y":8.8e-5},{"x":2273,"y":0.00062},{"x":2278,"y":9e-5},{"x":2282,"y":0.0006},{"x":2287,"y":9.2e-5},{"x":2291,"y":0.00042},{"x":2296,"y":9.5e-5},{"x":2300,"y":0.00048},{"x":2307,"y":8e-5},{"x":2311,"y":7.1e-5},{"x":2314,"y":0.00083},{"x":2320,"y":8e-5},{"x":2325,"y":0.00048},{"x":2330,"y":8.5e-5},{"x":2335,"y":0.00045},{"x":2340,"y":8.5e-5},{"x":2344,"y":0.00056},{"x":2351,"y":7.6e-5},{"x":2358,"y":0.00043},{"x":2365,"y":8.5e-5},{"x":2372,"y":0.00073},{"x":2378,"y":9e-5},{"x":2383,"y":0.00042},{"x":2388,"y":9e-5},{"x":2393,"y":0.00045},{"x":2400,"y":8.5e-5},{"x":2408,"y":0.00041},{"x":2415,"y":8e-5},{"x":2421,"y":0.00045},{"x":2425,"y":7.2e-5},{"x":2434,"y":0.00058},{"x":2440,"y":8.5e-5},{"x":2446,"y":0.00085},{"x":2453,"y":8e-5},{"x":2459,"y":0.0014},{"x":2463,"y":6.8e-5},{"x":2471,"y":0.00055},{"x":2478,"y":8.5e-5},{"x":2484,"y":0.00052},{"x":2490,"y":9e-5},{"x":2497,"y":0.0003},{"x":2501,"y":6.5e-5},{"x":2506,"y":6.2e-5},{"x":2510,"y":6.4e-5},{"x":2524,"y":7.3e-5},{"x":2538,"y":6.7e-5},{"x":2552,"y":7.8e-5},{"x":2566,"y":6.9e-5},{"x":2580,"y":8.1e-5},{"x":2594,"y":7e-5},{"x":2608,"y":8.4e-5},{"x":2622,"y":7.1e-5},{"x":2636,"y":8e-5},{"x":2650,"y":7.15e-5},{"x":2664,"y":8.1e-5},{"x":2678,"y":7.2e-5},{"x":2692,"y":8e-5},{"x":2704,"y":7.2e-5},{"x":2710,"y":8.9e-5},{"x":2724,"y":7.2e-5},{"x":2738,"y":8.2e-5},{"x":2752,"y":7.15e-5},{"x":2766,"y":7.9e-5},{"x":2780,"y":7.1e-5},{"x":2794,"y":8.1e-5},{"x":2808,"y":7.1e-5},{"x":2822,"y":7.9e-5},{"x":2832,"y":7e-5},{"x":2842,"y":8.8e-5},{"x":2856,"y":7e-5},{"x":2870,"y":8e-5},{"x":2884,"y":6.95e-5},{"x":2898,"y":7.8e-5},{"x":2907,"y":6.9e-5},{"x":2916,"y":8.8e-5},{"x":2930,"y":6.85e-5},{"x":2942,"y":8e-5},{"x":2948,"y":6.8e-5},{"x":2954,"y":9e-5},{"x":2968,"y":6.75e-5},{"x":2982,"y":8.9e-5},{"x":2996,"y":6.7e-5},{"x":3010,"y":7.9e-5},{"x":3024,"y":6.65e-5},{"x":3038,"y":7.6e-5},{"x":3052,"y":6.6e-5},{"x":3066,"y":7.4e-5},{"x":3080,"y":6.55e-5},{"x":3094,"y":7.3e-5},{"x":3108,"y":6.5e-5},{"x":3124,"y":9.6e-5},{"x":3131,"y":8e-5},{"x":3138,"y":0.0001},{"x":3152,"y":6.4e-5},{"x":3171,"y":8.4e-5},{"x":3180,"y":6.35e-5},{"x":3194,"y":7.6e-5},{"x":3208,"y":6.3e-5},{"x":3228,"y":8e-5},{"x":3240,"y":6.25e-5},{"x":3255,"y":8e-5},{"x":3268,"y":6.2e-5},{"x":3278,"y":7e-5}]},
"encoding":{"x":{"field":"x","type":"quantitative","title":"Epochs (x100)","scale":{"domain":[-164,3444],"nice":false,"zero":false},"axis":{"values":[0,500,1000,1500,2000,2500,3000],"format":"d","tickSize":24,"tickWidth":5.5,"labelPadding":22,"titlePadding":28,"labelFlush":false,"labelOverlap":false}}},
"layer":[
{"data":{"name":"total"},"mark":{"type":"line","opacity":0.7,"strokeWidth":10.4,"strokeJoin":"round","strokeCap":"butt","clip":true},
"encoding":{"color":{"datum":"Loss total","type":"nominal","scale":{"domain":["Loss total","Loss data","Loss pde"],"range":["#1f77b4","#ff7f0e","#2ca02c"]},
"legend":{"title":null,"orient":"none","legendX":1712,"legendY":34,"padding":24,"strokeColor":"#d5d5d5","cornerRadius":14,"fillColor":"#ffffff","symbolType":"M-1.5,0L4.5,0","symbolStrokeWidth":10.4,"symbolSize":2500,"labelFontSize":69,"labelColor":"black","labelOffset":127,"labelLimit":1000,"rowPadding":33,"labelFont":"DejaVu Sans","encoding":{"legend":{"strokeWidth":{"value":5.5}}}}},
"y":{"field":"y","type":"quantitative","title":"Training loss","scale":{"type":"log","domain":[1.247e-5,4.3],"nice":false,"zero":false},"axis":{"orient":"left","values":[1,0.1,0.01,0.001,0.0001],"tickSize":24,"tickWidth":5.5,"labelPadding":20,"titlePadding":42,"labelOverlap":false,"labelExpr":"datum.value>=0.5?'10⁰':datum.value>=0.05?'10⁻¹':datum.value>=0.005?'10⁻²':datum.value>=0.0005?'10⁻³':'10⁻⁴'"}}}},
{"data":{"name":"data"},"mark":{"type":"line","opacity":0.7,"strokeWidth":10.4,"strokeJoin":"round","strokeCap":"butt","clip":true},
"encoding":{"color":{"datum":"Loss data","type":"nominal"},
"y":{"field":"y","type":"quantitative","title":null,"scale":{"type":"log","domain":[1.247e-5,4.3],"nice":false,"zero":false},"axis":{"orient":"left","values":[4,3,2,0.9,0.8,0.7,0.6,0.5,0.4,0.3,0.2,0.09,0.08,0.07,0.06,0.05,0.04,0.03,0.02,0.009,0.008,0.007,0.006,0.005,0.004,0.003,0.002,0.0009,0.0008,0.0007,0.0006,0.0005,0.0004,0.0003,0.0002,9e-5,8e-5,7e-5,6e-5,5e-5,4e-5,3e-5,2e-5],"tickSize":14,"tickWidth":4.2,"labels":false,"title":null}}}},
{"data":{"name":"pde"},"mark":{"type":"line","opacity":0.7,"strokeWidth":10.4,"strokeJoin":"round","strokeCap":"butt","clip":true},
"encoding":{"color":{"datum":"Loss pde","type":"nominal"},
"y":{"field":"y","type":"quantitative","title":null,"scale":{"type":"log","domain":[1.247e-5,4.3],"nice":false,"zero":false},"axis":null}}}
],
"resolve":{"scale":{"y":"shared"},"axis":{"y":"independent"}}}
